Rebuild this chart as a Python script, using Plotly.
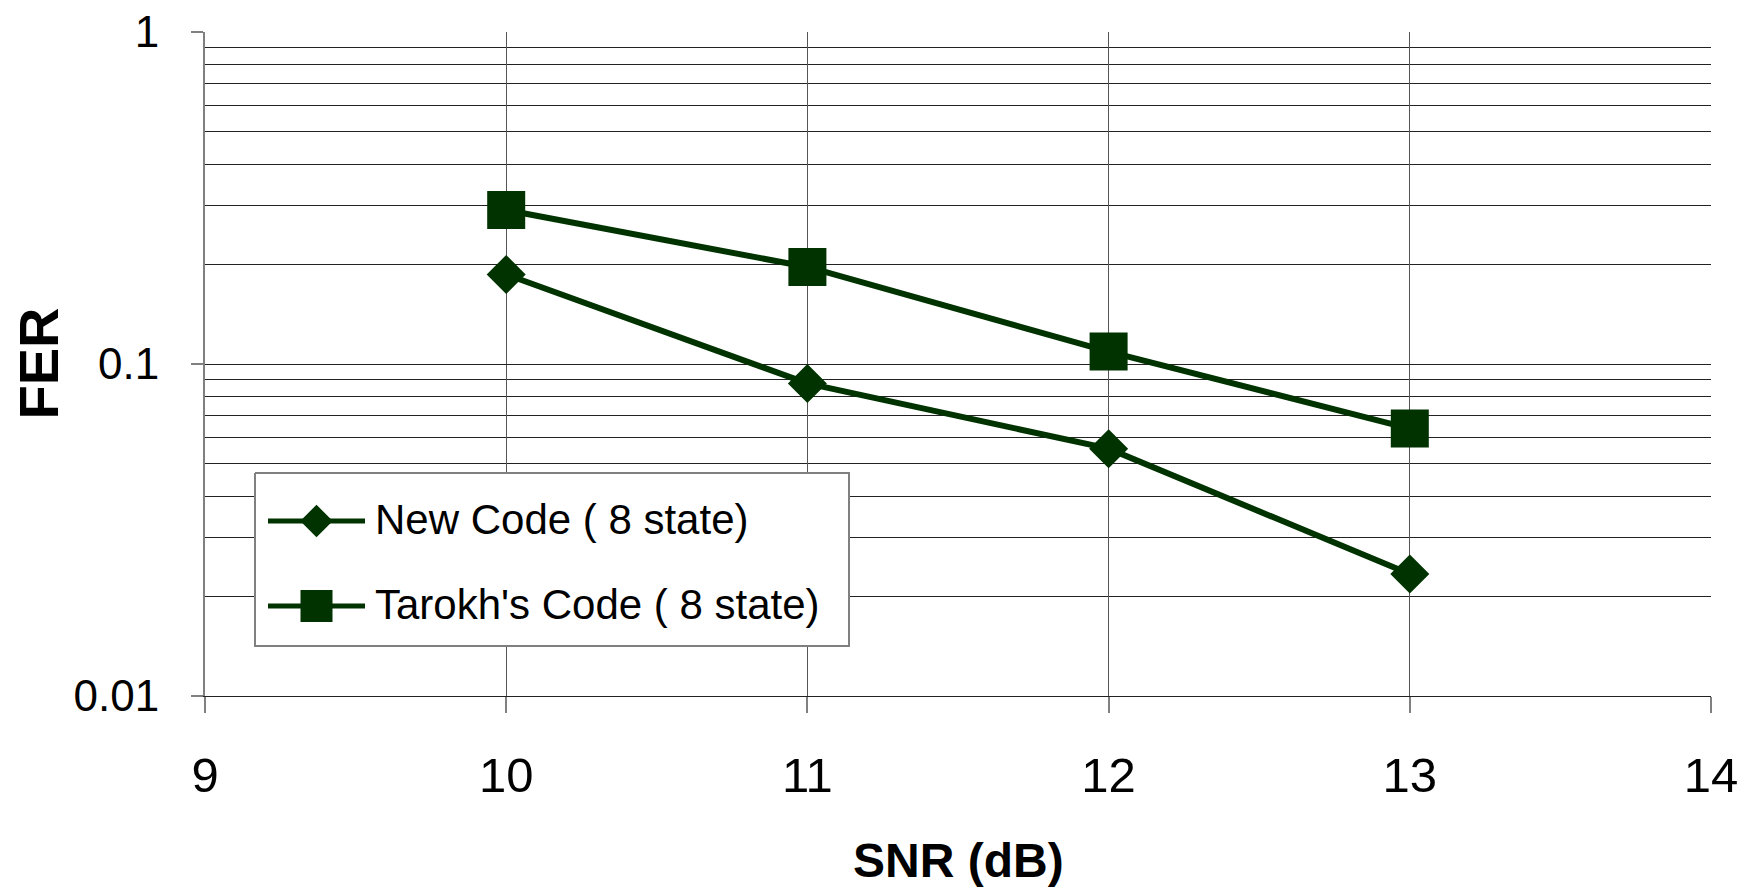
import plotly.graph_objects as go

# SNR sweep and frame error rates for the two 8-state codes
snr_db = [10, 11, 12, 13]
fer_new_code = [0.186, 0.0874, 0.0556, 0.0233]
fer_tarokh = [0.291, 0.196, 0.109, 0.0639]

series_names = ["New Code ( 8 state)", "Tarokh's Code ( 8 state)"]
y_major_vals = [0.01, 0.1, 1]
y_major_text = ["0.01", "0.1", "1"]
y_minor_vals = [m * 10.0 ** e for e in (-2, -1) for m in range(2, 10)]
x_ticks = [9, 10, 11, 12, 13, 14]

GREEN = "#003300"
FONT = "Liberation Sans, Arial, sans-serif"

W, H = 1750, 891
ML, MR, MT, MB = 205, 39, 32, 195
PW, PH = W - ML - MR, H - MT - MB

fig = go.Figure()

fig.add_trace(go.Scatter(
    x=snr_db, y=fer_new_code, name=series_names[0], mode="lines+markers",
    line=dict(color=GREEN, width=6),
    marker=dict(symbol="diamond", size=30, color=GREEN, line=dict(width=0)),
    showlegend=False,
))
fig.add_trace(go.Scatter(
    x=snr_db, y=fer_tarokh, name=series_names[1], mode="lines+markers",
    line=dict(color=GREEN, width=6),
    marker=dict(symbol="square", size=38, color=GREEN, line=dict(width=0)),
    showlegend=False,
))

# Boxed key, laid out on a pixel overlay of the plot area
key_x0, key_x1, key_y0, key_y1 = 50, 644, 441, 614
key_line = [63, 160]
key_rows = [489, 574]
key_symbols = ["diamond", "square"]
key_sizes = [25, 32]

fig.add_trace(go.Scatter(
    x=[key_x0, key_x1, key_x1, key_x0, key_x0],
    y=[key_y0, key_y0, key_y1, key_y1, key_y0],
    xaxis="x2", yaxis="y2", mode="lines", fill="toself", fillcolor="white",
    line=dict(color="#808080", width=2), showlegend=False, hoverinfo="skip",
))
for name, row, sym, sz in zip(series_names, key_rows, key_symbols, key_sizes):
    fig.add_trace(go.Scatter(
        x=key_line, y=[row, row], xaxis="x2", yaxis="y2", mode="lines",
        line=dict(color=GREEN, width=5), showlegend=False, hoverinfo="skip",
    ))
    fig.add_trace(go.Scatter(
        x=[sum(key_line) / 2], y=[row], xaxis="x2", yaxis="y2", mode="markers",
        marker=dict(symbol=sym, size=sz, color=GREEN, line=dict(width=0)),
        showlegend=False, hoverinfo="skip",
    ))
    fig.add_annotation(
        x=(key_line[1] + 8) / PW, y=1 - (row - 2) / PH, xref="paper", yref="paper",
        text=name, showarrow=False, xanchor="left", yanchor="middle",
        font=dict(family=FONT, size=42, color="black"),
    )

# Axis titles
fig.add_annotation(
    x=(37.5 - ML) / PW, y=0.5, xref="paper", yref="paper", text="<b>FER</b>",
    textangle=-90, showarrow=False, xanchor="center", yanchor="middle",
    font=dict(family=FONT, size=56, color="black"),
)
fig.add_annotation(
    x=0.5, y=1 - (860 - MT) / PH, xref="paper", yref="paper", text="<b>SNR (dB)</b>",
    showarrow=False, xanchor="center", yanchor="middle",
    font=dict(family=FONT, size=48, color="black"),
)

fig.update_layout(
    width=W, height=H,
    margin=dict(l=ML, r=MR, t=MT, b=MB, pad=0, autoexpand=False),
    paper_bgcolor="white", plot_bgcolor="white",
    font=dict(family=FONT, color="black"),
    xaxis=dict(
        range=[9, 14], tickvals=x_ticks, showgrid=True, gridcolor="#555555", gridwidth=1,
        zeroline=False, showline=True, linecolor="#222222", linewidth=1,
        ticks="outside", ticklen=16, tickwidth=2, tickcolor="#808080",
        tickfont=dict(family=FONT, size=49, color="black"), ticklabelstandoff=20,
        automargin=False,
    ),
    yaxis=dict(
        type="log", range=[-2, 0], tickvals=y_major_vals, ticktext=y_major_text,
        showgrid=True, gridcolor="#222222", gridwidth=1,
        minor=dict(tickvals=y_minor_vals, showgrid=True, gridcolor="#222222", gridwidth=1, ticks=""),
        zeroline=False, showline=True, linecolor="#808080", linewidth=2,
        ticks="outside", ticklen=12, tickwidth=2, tickcolor="#808080",
        tickfont=dict(family=FONT, size=44, color="black"), ticklabelstandoff=23,
        automargin=False,
    ),
    xaxis2=dict(range=[0, PW], overlaying="x", visible=False, fixedrange=True, automargin=False),
    yaxis2=dict(range=[PH, 0], overlaying="y", visible=False, fixedrange=True, automargin=False),
)

fig.write_html("out.html")
